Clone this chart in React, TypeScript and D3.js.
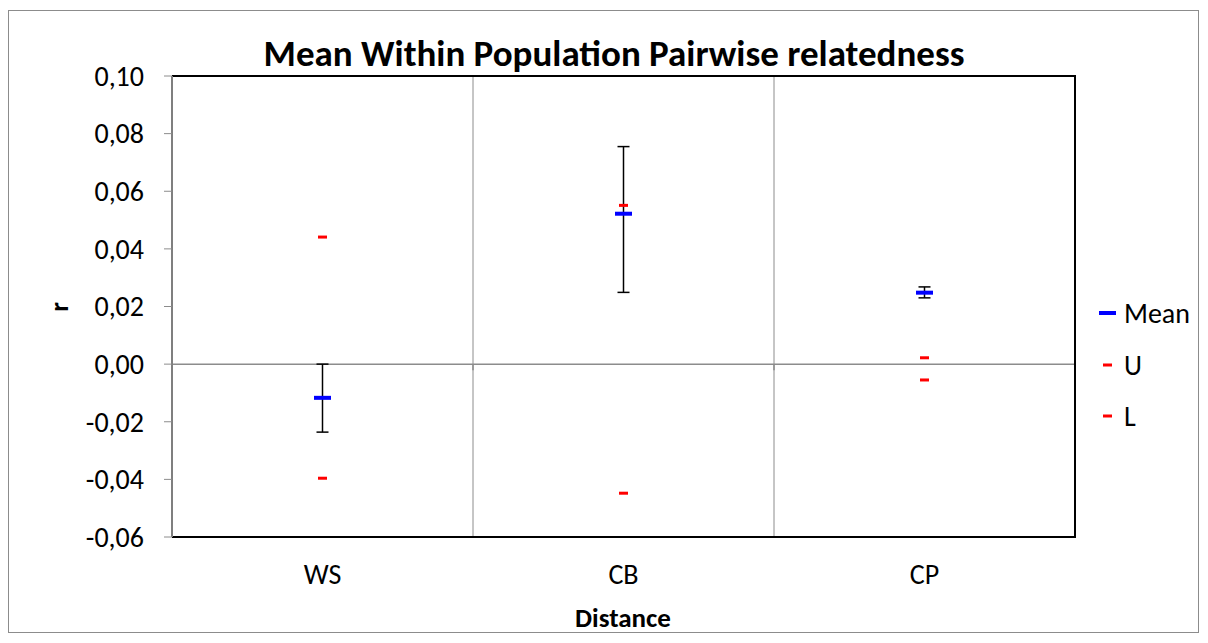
import React, { useEffect, useRef } from 'react'
import * as d3 from 'd3'

const categories = ['WS', 'CB', 'CP']
const meanValues = [-0.0117, 0.0522, 0.0248]
const errLow = [-0.0236, 0.0249, 0.023]
const errHigh = [0.0, 0.0755, 0.0268]
const upperValues = [0.0441, 0.0551, 0.0022]
const lowerValues = [-0.0396, -0.0448, -0.0055]
const yTicks = [-0.06, -0.04, -0.02, 0, 0.02, 0.04, 0.06, 0.08, 0.1]

const App: React.FC = () => {
  const svgRef = useRef<SVGSVGElement>(null)

  useEffect(() => {
    if (!svgRef.current) return
    const svg = d3.select(svgRef.current)
    svg.selectAll('*').remove()

    const width = 1208
    const height = 643
    const font = 'Carlito, Calibri, "Open Sans", sans-serif'
    const left = 172
    const right = 1075
    const top = 76
    const bottom = 537

    svg.attr('width', width).attr('height', height)

    // outer chart border
    svg.append('rect')
      .attr('x', 8.5).attr('y', 10.5)
      .attr('width', 1190).attr('height', 622)
      .attr('fill', '#fff').attr('stroke', '#8c8c8c').attr('stroke-width', 1)

    const x = d3.scaleBand().domain(categories).range([left, right])
    const y = d3.scaleLinear().domain([-0.06, 0.1]).range([bottom, top])
    const fmt = (v: number) => d3.format('.2f')(v).replace('.', ',').replace('−', '-')

    // vertical gridlines at category boundaries
    categories.slice(1).forEach(c => {
      svg.append('line')
        .attr('x1', x(c)!).attr('x2', x(c)!)
        .attr('y1', top).attr('y2', bottom)
        .attr('stroke', '#8c8c8c').attr('stroke-width', 1)
    })

    // category axis at y = 0
    svg.append('line')
      .attr('x1', left).attr('x2', right)
      .attr('y1', y(0)).attr('y2', y(0))
      .attr('stroke', '#8c8c8c').attr('stroke-width', 1.5)
    categories.concat(['end']).forEach((c, i) => {
      const xx = left + x.bandwidth() * i
      svg.append('line')
        .attr('x1', xx).attr('x2', xx)
        .attr('y1', y(0)).attr('y2', y(0) + 6)
        .attr('stroke', '#8c8c8c').attr('stroke-width', 1.5)
    })

    // plot frame (black top, right, bottom)
    svg.append('path')
      .attr('d', `M${left},${top}H${right}V${bottom}H${left}`)
      .attr('fill', 'none').attr('stroke', '#000').attr('stroke-width', 2)

    // y axis
    svg.append('line')
      .attr('x1', left).attr('x2', left)
      .attr('y1', top).attr('y2', bottom)
      .attr('stroke', '#7f7f7f').attr('stroke-width', 2)
    yTicks.forEach(t => {
      svg.append('line')
        .attr('x1', left - 8).attr('x2', left)
        .attr('y1', y(t)).attr('y2', y(t))
        .attr('stroke', '#8c8c8c').attr('stroke-width', 1)
      svg.append('text')
        .attr('x', 144).attr('y', y(t))
        .attr('dy', '0.35em')
        .attr('text-anchor', 'end')
        .style('font-family', font).style('font-size', '28px').style('fill', '#000')
        .text(fmt(t))
    })

    // x labels
    categories.forEach(c => {
      svg.append('text')
        .attr('x', x(c)! + x.bandwidth() / 2).attr('y', 584)
        .attr('text-anchor', 'middle')
        .style('font-family', font).style('font-size', '28px').style('fill', '#000')
        .text(c)
    })

    // error bars
    categories.forEach((c, i) => {
      const cx = x(c)! + x.bandwidth() / 2
      const g = svg.append('g').attr('stroke', '#000').attr('stroke-width', 1.5)
      g.append('line').attr('x1', cx).attr('x2', cx).attr('y1', y(errHigh[i])).attr('y2', y(errLow[i]))
      g.append('line').attr('x1', cx - 6).attr('x2', cx + 6).attr('y1', y(errHigh[i])).attr('y2', y(errHigh[i]))
      g.append('line').attr('x1', cx - 6).attr('x2', cx + 6).attr('y1', y(errLow[i])).attr('y2', y(errLow[i]))
    })

    // U and L markers
    const drawDash = (cx: number, cy: number, w: number, h: number, color: string) => {
      svg.append('rect')
        .attr('x', cx - w / 2).attr('y', cy - h / 2)
        .attr('width', w).attr('height', h)
        .attr('fill', color)
    }
    categories.forEach((c, i) => {
      const cx = x(c)! + x.bandwidth() / 2
      drawDash(cx, y(upperValues[i]), 9, 3, '#ff0000')
      drawDash(cx, y(lowerValues[i]), 9, 3, '#ff0000')
    })
    categories.forEach((c, i) => {
      const cx = x(c)! + x.bandwidth() / 2
      drawDash(cx, y(meanValues[i]), 17, 4, '#0000ff')
    })

    // title
    svg.append('text')
      .attr('x', 614).attr('y', 66)
      .attr('text-anchor', 'middle')
      .style('font-family', font).style('font-size', '37px').style('font-weight', 'bold')
      .text('Mean Within Population Pairwise relatedness')

    // axis titles
    svg.append('text')
      .attr('x', 623).attr('y', 627)
      .attr('text-anchor', 'middle')
      .style('font-family', font).style('font-size', '27px').style('font-weight', 'bold')
      .text('Distance')
    svg.append('text')
      .attr('transform', 'translate(68,307) rotate(-90)')
      .attr('text-anchor', 'middle')
      .style('font-family', font).style('font-size', '27px').style('font-weight', 'bold')
      .text('r')

    // legend
    const legend = [
      { name: 'Mean', color: '#0000ff', w: 17, h: 4, y: 313 },
      { name: 'U', color: '#ff0000', w: 9, h: 3, y: 365 },
      { name: 'L', color: '#ff0000', w: 9, h: 3, y: 416 }
    ]
    legend.forEach(l => {
      drawDash(1107.5, l.y, l.w, l.h, l.color)
      svg.append('text')
        .attr('x', 1124).attr('y', l.y)
        .attr('dy', '0.35em')
        .style('font-family', font).style('font-size', '28px')
        .text(l.name)
    })
  }, [])

  return <svg ref={svgRef} style={{ display: 'block', position: 'absolute', left: 0, top: 0 }}></svg>
}

export default App
